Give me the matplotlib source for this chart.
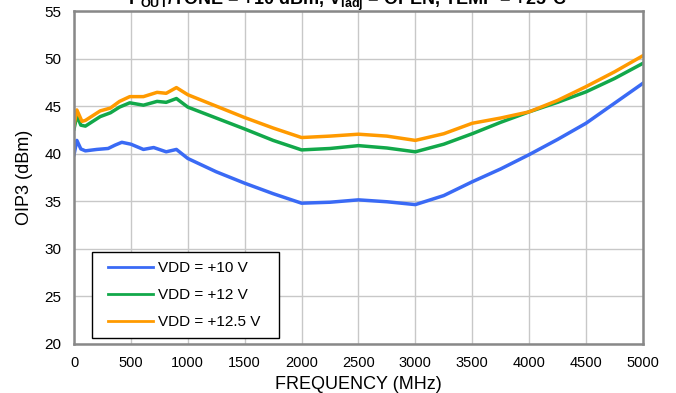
import matplotlib
matplotlib.use("Agg")
import matplotlib.pyplot as plt
from matplotlib.patches import Rectangle

plt.rcParams['font.family'] = ['Liberation Sans', 'DejaVu Sans']
plt.rcParams['mathtext.fontset'] = 'custom'
plt.rcParams['mathtext.rm'] = 'Liberation Sans'
plt.rcParams['mathtext.bf'] = 'Liberation Sans:bold'

# OIP3 vs frequency for three supply voltages
freq_10 = [0, 25, 60, 100, 200, 300, 360, 420, 500, 610, 700, 810, 900, 1000, 1250, 1500,
           1750, 2000, 2250, 2500, 2750, 3000, 3250, 3500, 3750, 4000, 4250, 4500, 4750, 5000]
oip3_10 = [39.9, 41.4, 40.5, 40.3, 40.45, 40.55, 40.9, 41.2, 41.0, 40.45, 40.65, 40.2, 40.45, 39.5, 38.1, 36.9,
           35.8, 34.8, 34.9, 35.15, 34.95, 34.65, 35.6, 37.05, 38.4, 39.9, 41.5, 43.2, 45.3, 47.4]

freq_12 = [0, 25, 60, 100, 230, 320, 400, 490, 610, 730, 810, 900, 1000, 1250, 1500,
           1750, 2000, 2250, 2500, 2750, 3000, 3250, 3500, 3750, 4000, 4250, 4500, 4750, 5000]
oip3_12 = [42.6, 44.0, 43.0, 42.9, 43.9, 44.3, 44.9, 45.35, 45.1, 45.5, 45.4, 45.8, 44.9, 43.75, 42.6,
           41.4, 40.4, 40.55, 40.85, 40.6, 40.2, 41.0, 42.1, 43.3, 44.4, 45.4, 46.5, 47.9, 49.5]

freq_125 = [0, 25, 70, 100, 230, 320, 400, 490, 610, 730, 810, 900, 1000, 1250, 1500,
            1750, 2000, 2250, 2500, 2750, 3000, 3250, 3500, 3750, 4000, 4250, 4500, 4750, 5000]
oip3_125 = [43.0, 44.6, 43.4, 43.5, 44.5, 44.8, 45.5, 46.0, 46.0, 46.45, 46.35, 46.95, 46.2, 45.0, 43.8,
            42.7, 41.7, 41.85, 42.05, 41.85, 41.4, 42.1, 43.2, 43.75, 44.4, 45.6, 47.05, 48.6, 50.3]

labels = ['VDD = +10 V', 'VDD = +12 V', 'VDD = +12.5 V']
colors = ['#3a6af5', '#12a84a', '#ff9a00']

fig = plt.figure(figsize=(6.76, 3.93), dpi=100)
ax = fig.add_axes([0.1095, 0.1247, 0.8415, 0.8473])

ax.plot(freq_10, oip3_10, color=colors[0], lw=2.5, label=labels[0])
ax.plot(freq_12, oip3_12, color=colors[1], lw=2.5, label=labels[1])
ax.plot(freq_125, oip3_125, color=colors[2], lw=2.5, label=labels[2])

ax.set_xlim(0, 5000)
ax.set_ylim(20, 55)
ax.set_xticks(range(0, 5001, 500))
ax.set_yticks(range(20, 56, 5))
ax.grid(True, color='#c8c8c8', lw=1.0)
ax.set_axisbelow(True)
ax.tick_params(length=0, pad=9)
ax.tick_params(axis='x', labelsize=10.5)
ax.tick_params(axis='y', labelsize=11)
for s in ax.spines.values():
    s.set_color('#888888')
    s.set_linewidth(1.8)

ax.set_xlabel('FREQUENCY (MHz)', fontsize=13, labelpad=4)
ax.set_ylabel('OIP3 (dBm)', fontsize=13, labelpad=8)

# legend box drawn separately so the side padding can be wider than top/bottom
ax.add_patch(Rectangle((0.0322, 0.0171), 0.3287, 0.2583, transform=ax.transAxes,
                       facecolor='white', edgecolor='black', lw=1.0, zorder=4))
leg = ax.legend(loc='center left', bbox_to_anchor=(0.0603, 0.1462), borderaxespad=0,
                borderpad=0, frameon=False, fontsize=11,
                handlelength=2.95, handletextpad=0.3, labelspacing=0.84)
leg.set_zorder(5)
for line in leg.get_lines():
    line.set_linewidth(2.0)

fig.text(0.514, 0.987,
         r'P$_{\mathbf{OUT}}$/TONE = +10 dBm, V$_{\mathbf{Iadj}}$ = OPEN, TEMP = +25°C',
         ha='center', va='baseline', fontsize=13, fontweight='bold')

fig.savefig('out.png', dpi=100)
